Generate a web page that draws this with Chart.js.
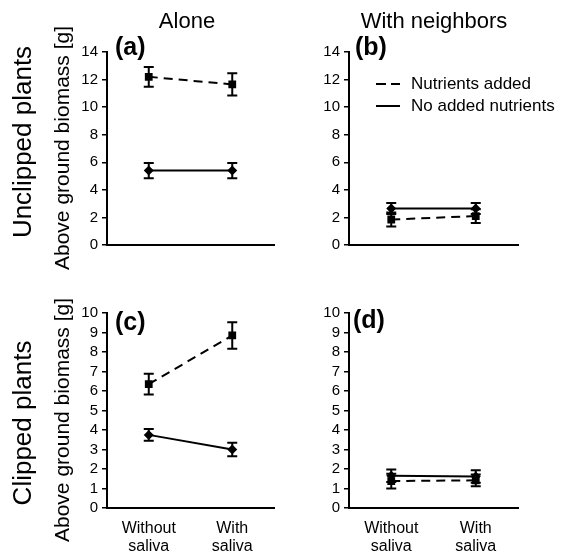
<!DOCTYPE html>
<html>
<head>
<meta charset="utf-8">
<script src="https://cdn.jsdelivr.net/npm/chart.js@4.4.0/dist/chart.umd.min.js"></script>
<style>
  body { margin: 0; background: #fff; }
  #page { position: relative; width: 573px; height: 553px; overflow: hidden; font-family: 'Liberation Sans', Arial, sans-serif; color: #000; }
  canvas { position: absolute; }
  .lbl { position: absolute; white-space: nowrap; line-height: 1; }
  .center { transform: translate(-50%, -50%); }
  .rot { transform: translate(-50%, -50%) rotate(-90deg); }
  .letter { font-weight: bold; font-size: 25px; }
</style>
</head>
<body>
<div id="page">
  <canvas id="chartA" width="290" height="270" style="left:0;top:0"></canvas>
  <canvas id="chartB" width="283" height="270" style="left:290px;top:0"></canvas>
  <canvas id="chartC" width="290" height="283" style="left:0;top:270px"></canvas>
  <canvas id="chartD" width="283" height="283" style="left:290px;top:270px"></canvas>

  <div class="lbl center" style="left:187px;top:21px;font-size:22px">Alone</div>
  <div class="lbl center" style="left:434px;top:21px;font-size:22px">With neighbors</div>
  <div class="lbl rot" style="left:22px;top:142px;font-size:26px">Unclipped plants</div>
  <div class="lbl rot" style="left:22px;top:423px;font-size:26px">Clipped plants</div>
  <div class="lbl rot" style="left:61px;top:148px;font-size:21px">Above ground biomass [g]</div>
  <div class="lbl rot" style="left:61px;top:420px;font-size:21px">Above ground biomass [g]</div>
  <div class="lbl letter" style="left:115px;top:34px">(a)</div>
  <div class="lbl letter" style="left:355px;top:34px">(b)</div>
  <div class="lbl letter" style="left:115px;top:309px">(c)</div>
  <div class="lbl letter" style="left:353px;top:307px">(d)</div>
</div>
<script>
const categories = [['Without', 'saliva'], ['With', 'saliva']];
const seriesNames = ['Nutrients added', 'No added nutrients'];

// (a) alone, unclipped
const aNutrients = [12.2, 11.65];
const aNutrientsErr = [0.72, 0.8];
const aNoNutrients = [5.4, 5.4];
const aNoNutrientsErr = [0.55, 0.55];

// (b) with neighbors, unclipped
const bNutrients = [1.85, 2.1];
const bNutrientsErr = [0.5, 0.5];
const bNoNutrients = [2.65, 2.65];
const bNoNutrientsErr = [0.4, 0.4];

// (c) alone, clipped
const cNutrients = [6.35, 8.85];
const cNutrientsErr = [0.53, 0.68];
const cNoNutrients = [3.75, 3.0];
const cNoNutrientsErr = [0.3, 0.35];

// (d) with neighbors, clipped
const dNutrients = [1.38, 1.42];
const dNutrientsErr = [0.38, 0.3];
const dNoNutrients = [1.65, 1.62];
const dNoNutrientsErr = [0.32, 0.32];

// y tick ranges: [max, step]
const unclippedTicks = [14, 2];
const clippedTicks = [10, 1];

const FONT = "'Liberation Sans', Arial, sans-serif";

// vertical error bars with caps
const errorBars = {
    id: 'errorBars',
    afterDatasetsDraw(chart) {
        const ctx = chart.ctx;
        const y = chart.scales.y;
        chart.data.datasets.forEach((ds, i) => {
            const meta = chart.getDatasetMeta(i);
            ctx.save();
            ctx.strokeStyle = '#000';
            ctx.lineWidth = 2;
            meta.data.forEach((pt, j) => {
                const top = y.getPixelForValue(ds.data[j] + ds.errors[j]);
                const bot = y.getPixelForValue(ds.data[j] - ds.errors[j]);
                ctx.beginPath();
                ctx.moveTo(pt.x, top); ctx.lineTo(pt.x, bot);
                ctx.moveTo(pt.x - 5, top); ctx.lineTo(pt.x + 5, top);
                ctx.moveTo(pt.x - 5, bot); ctx.lineTo(pt.x + 5, bot);
                ctx.stroke();
            });
            ctx.restore();
        });
    }
};

// legend drawn inside panel (b)
const lineLegend = {
    id: 'lineLegend',
    afterDraw(chart, args, opts) {
        if (!opts.show) return;
        const ctx = chart.ctx;
        ctx.save();
        ctx.strokeStyle = '#000';
        ctx.lineWidth = 2;
        ctx.fillStyle = '#000';
        ctx.font = '17px ' + FONT;
        ctx.textBaseline = 'middle';
        const rows = [[84, [10, 5]], [106, []]];
        rows.forEach((r, k) => {
            ctx.setLineDash(r[1]);
            ctx.beginPath();
            ctx.moveTo(86, r[0]); ctx.lineTo(110, r[0]);
            ctx.stroke();
            ctx.fillText(seriesNames[k], 121, r[0]);
        });
        ctx.restore();
    }
};

function makeChart(id, nutr, nutrErr, noNutr, noNutrErr, ticks, cfg) {
    const ctx = document.getElementById(id).getContext('2d');
    return new Chart(ctx, {
        type: 'line',
        data: {
            labels: categories,
            datasets: [{
                label: seriesNames[0],
                data: nutr,
                errors: nutrErr,
                borderColor: '#000',
                borderWidth: 2,
                borderDash: [9, 6],
                pointStyle: 'rect',
                pointRadius: 5.5,
                pointBackgroundColor: '#000',
                pointBorderColor: '#000',
                pointBorderWidth: 0,
                tension: 0
            }, {
                label: seriesNames[1],
                data: noNutr,
                errors: noNutrErr,
                borderColor: '#000',
                borderWidth: 2,
                pointStyle: 'rectRot',
                pointRadius: 5,
                pointBackgroundColor: '#000',
                pointBorderColor: '#000',
                pointBorderWidth: 0,
                tension: 0
            }]
        },
        options: {
            responsive: false,
            animation: false,
            layout: { padding: { left: 0, top: cfg.top, right: cfg.right, bottom: 0 } },
            plugins: {
                legend: { display: false },
                tooltip: { enabled: false },
                lineLegend: { show: !!cfg.legend }
            },
            scales: {
                x: {
                    offset: true,
                    grid: { display: true, drawOnChartArea: false, drawTicks: false },
                    border: { display: true, color: '#000', width: 2 },
                    ticks: {
                        display: cfg.xLabels,
                        color: '#000',
                        padding: 11,
                        maxRotation: 0,
                        font: { family: FONT, size: 16, lineHeight: 1.15 }
                    },
                    afterFit: s => { s.height = cfg.xHeight; }
                },
                y: {
                    min: 0,
                    max: ticks[0],
                    grid: { drawOnChartArea: false, drawTicks: true, tickLength: 5, color: '#000', lineWidth: 1.5 },
                    border: { display: true, color: '#000', width: 2 },
                    ticks: {
                        stepSize: ticks[1],
                        autoSkip: false,
                        color: '#000',
                        padding: 4,
                        font: { family: FONT, size: 15 }
                    },
                    afterFit: s => { s.width = cfg.yWidth; }
                }
            }
        },
        plugins: [errorBars, lineLegend]
    });
}

makeChart('chartA', aNutrients, aNutrientsErr, aNoNutrients, aNoNutrientsErr, unclippedTicks,
    { top: 52, right: 16, yWidth: 107, xHeight: 25, xLabels: false });
makeChart('chartB', bNutrients, bNutrientsErr, bNoNutrients, bNoNutrientsErr, unclippedTicks,
    { top: 52, right: 55, yWidth: 59, xHeight: 25, xLabels: false, legend: true });
makeChart('chartC', cNutrients, cNutrientsErr, cNoNutrients, cNoNutrientsErr, clippedTicks,
    { top: 43, right: 16, yWidth: 107, xHeight: 45, xLabels: true });
makeChart('chartD', dNutrients, dNutrientsErr, dNoNutrients, dNoNutrientsErr, clippedTicks,
    { top: 43, right: 55, yWidth: 59, xHeight: 45, xLabels: true });
</script>
</body>
</html>
